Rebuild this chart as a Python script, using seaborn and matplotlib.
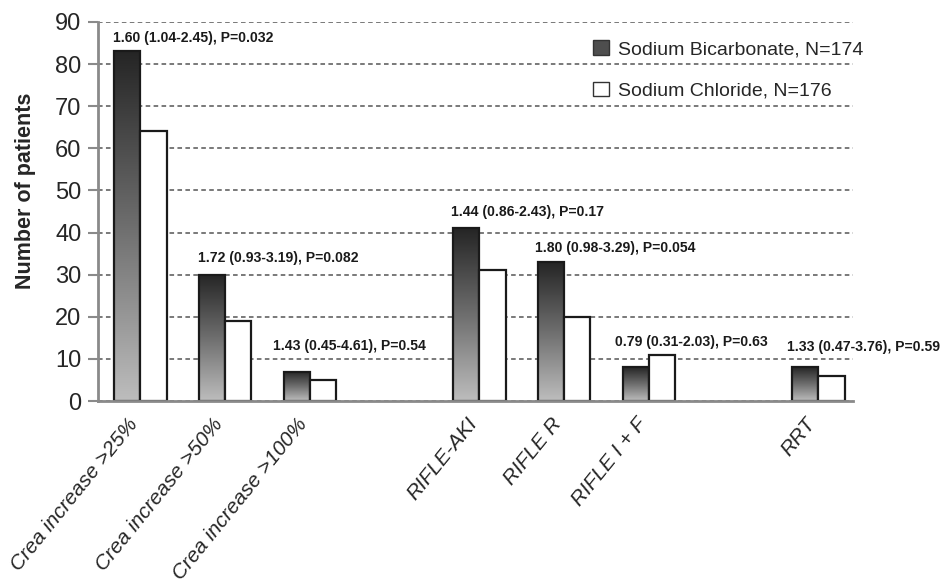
import numpy as np
import pandas as pd
import matplotlib
matplotlib.use("Agg")
import matplotlib.pyplot as plt
import matplotlib.transforms as mtransforms
import seaborn as sns
from matplotlib.patches import Patch
from matplotlib.colors import LinearSegmentedColormap

# ---- data ----
categories = ["Crea increase >25%", "Crea increase >50%", "Crea increase >100%",
              "RIFLE-AKI", "RIFLE R", "RIFLE I + F", "RRT"]
positions = [0, 1, 2, 4, 5, 6, 8]
bicarbonate = [83, 30, 7, 41, 33, 8, 8]
chloride = [64, 19, 5, 31, 20, 11, 6]
series_names = ["Sodium Bicarbonate, N=174", "Sodium Chloride, N=176"]
annotations = ["1.60 (1.04-2.45), P=0.032", "1.72 (0.93-3.19), P=0.082",
               "1.43 (0.45-4.61), P=0.54", "1.44 (0.86-2.43), P=0.17",
               "1.80 (0.98-3.29), P=0.054", "0.79 (0.31-2.03), P=0.63",
               "1.33 (0.47-3.76), P=0.59"]
annot_x_offset = [-0.32, -0.32, -0.44, -0.34, -0.34, -0.40, -0.37]
annot_y = [86.2, 34.0, 13.1, 44.9, 36.3, 14.0, 12.8]
yticks = [0, 10, 20, 30, 40, 50, 60, 70, 80, 90]

df = pd.DataFrame({
    "pos": positions * 2,
    "value": bicarbonate + chloride,
    "group": [series_names[0]] * len(positions) + [series_names[1]] * len(positions),
})

sns.set_style("white")
plt.rcParams["font.family"] = ["Liberation Sans", "DejaVu Sans"]

fig = plt.figure(figsize=(9.41, 5.79), dpi=100)
ax = fig.add_axes([98 / 941, 1 - 401 / 579, (853 - 98) / 941, (401 - 22) / 579])

sns.barplot(data=df, x="pos", y="value", hue="group", native_scale=True,
            hue_order=series_names, palette={series_names[0]: "#6a6a6a", series_names[1]: "white"},
            width=0.62, edgecolor="#1a1a1a", linewidth=1.6, ax=ax, legend=False, zorder=2)

# gradient fill for bicarbonate bars: dark at top, light at bottom
cmap = LinearSegmentedColormap.from_list("g", ["#bdbdbd", "#6e6e6e", "#252525"])
grad = np.linspace(0, 1, 256).reshape(-1, 1)
for bar in ax.containers[0]:
    x0, w, h = bar.get_x(), bar.get_width(), bar.get_height()
    im = ax.imshow(grad, cmap=cmap, extent=[x0, x0 + w, 0, h], origin="lower",
                   aspect="auto", zorder=1.9)
    im.set_clip_path(bar)
    bar.set_facecolor("none")

ax.set_xlim(-0.5, 8.41)
ax.set_ylim(0, 90)
ax.set_aspect("auto")

# grid
ax.set_axisbelow(True)
ax.yaxis.grid(True, linestyle=(0, (3, 2.2)), color="#555555", linewidth=1.1)
ax.xaxis.grid(False)

# spines
for s in ["top", "right"]:
    ax.spines[s].set_visible(False)
for s in ["left", "bottom"]:
    ax.spines[s].set_color("#8a8a8a")
    ax.spines[s].set_linewidth(2)
    ax.spines[s].set_zorder(3)

ax.set_yticks(yticks)
ax.set_yticklabels([str(v) for v in yticks], fontsize=17)
ax.tick_params(axis="y", direction="out", length=7, width=1.5, color="#8a8a8a", pad=5, left=True)
ax.tick_params(axis="x", length=0, pad=14)

ax.set_xticks(positions)
ax.set_xticklabels(categories, fontsize=15, style="italic", rotation=51,
                   ha="right", va="center", rotation_mode="anchor")
shift = mtransforms.ScaledTranslation(-6 / 100, 0, fig.dpi_scale_trans)
for lab in ax.get_xticklabels():
    lab.set_transform(lab.get_transform() + shift)

ax.set_xlabel("")
ax.set_ylabel("Number of patients", fontsize=15.5, fontweight="bold")
ax.yaxis.set_label_coords(-0.082, 0.554)

# annotations
for p, txt, dx, yv in zip(positions, annotations, annot_x_offset, annot_y):
    ax.text(p + dx, yv, txt, fontsize=10.1, fontweight="bold", ha="left",
            va="center", color="#1a1a1a", zorder=4)

# legend
handles = [Patch(facecolor="#4e4e4e", edgecolor="#333333"),
           Patch(facecolor="white", edgecolor="#333333")]
fig.legend(handles, series_names, loc="upper left", bbox_to_anchor=(593 / 941, 1 - 40 / 579),
           frameon=False, fontsize=14, handlelength=0.8, handleheight=0.8,
           handletextpad=0.5, labelspacing=1.2, borderpad=0, borderaxespad=0)

fig.savefig("out.png", dpi=100)
